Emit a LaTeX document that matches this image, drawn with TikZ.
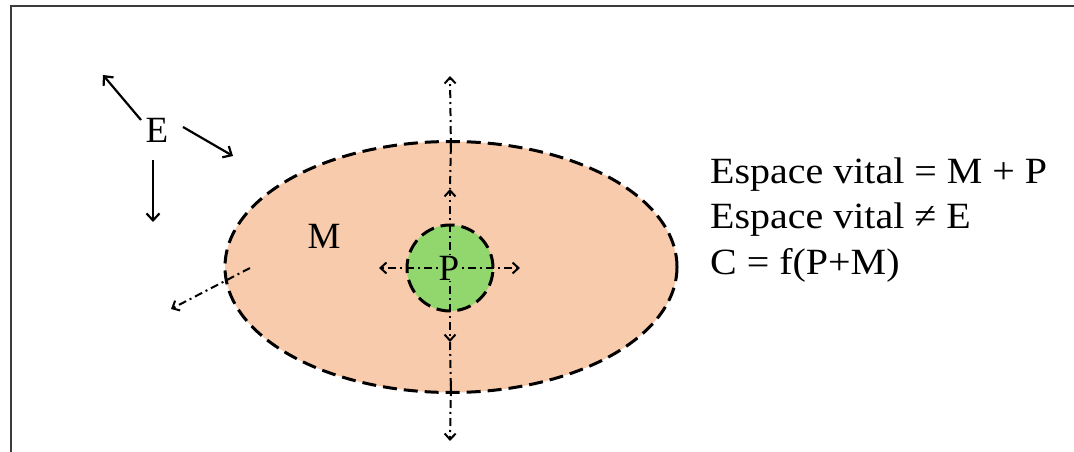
\documentclass[tikz,border=0pt]{standalone}
\usepackage{fontspec}
\setmainfont{Liberation Serif}
\usetikzlibrary{shapes.geometric,arrows.meta}
\definecolor{peach}{RGB}{248,203,173}
\definecolor{pgreen}{RGB}{146,214,110}
\definecolor{framegray}{RGB}{60,60,60}
\newcommand\widetext[1]{\scalebox{1.08}[1]{#1}}
\begin{document}
\begin{tikzpicture}[x=1pt,y=-1pt,
  bigdash/.style={line width=3pt, dash pattern=on 14pt off 7pt},
  ddline/.style={line width=2pt, dash pattern=on 8pt off 4pt on 2pt off 4pt},
  ddarrow/.style={ddline, -{Straight Barb[length=6pt,width=11pt,line width=2pt]}},
  solidarrow/.style={line width=2.2pt, -{Straight Barb[length=7pt,width=13pt,line width=2.2pt]}},
  lbl/.style={font=\fontsize{37}{44}\selectfont, inner sep=0pt}]
\useasboundingbox (0,0) rectangle (1074,452);
\draw[framegray, line width=1.2pt] (11,452) -- (11,6) -- (1074,6);
% M region
\node[ellipse, fill=peach, bigdash, draw, minimum width=452pt, minimum height=251pt, inner sep=0pt] (Mell) at (451,267) {};
% coordinates
\coordinate (ctop) at (450,76);
\coordinate (cbot) at (450,441);
\coordinate (pup) at (450,189);
\coordinate (pdown) at (450,342);
\coordinate (pleft) at (379,268);
\coordinate (pright) at (520,268);
\coordinate (mstart) at (250,268);
\coordinate (mend) at (171,309);
% dash-dot lines through M
\draw[ddline] (Mell.north) -- (pup);
\draw[ddline] (pdown) -- (Mell.south);
% P region
\node[circle, fill=pgreen, bigdash, draw, minimum size=86pt, inner sep=0pt] (Pc) at (450,268) {};
% dash-dot arrows
\draw[ddarrow] (Mell.north) ++(0,12) -- (ctop);
\draw[ddarrow] (Mell.south) ++(0,-12) -- (cbot);
\draw[ddarrow] (Pc.center) -- (pup);
\draw[ddarrow] (Pc.center) -- (pdown);
\draw[ddarrow] (Pc.center) -- (pleft);
\draw[ddarrow] (Pc.center) -- (pright);
\draw[ddarrow] (mstart) -- (mend);
\node[lbl, fill=pgreen, inner sep=1pt] (Plbl) at (449,268) {P};
\node[lbl] (Mlbl) at (324,236) {M};
% E
\node[lbl] (E) at (157,130) {E};
\coordinate (e1) at (103,75);
\coordinate (e2) at (233,156);
\coordinate (e3) at (153,222);
\draw[solidarrow] (141,120) -- (e1);
\draw[solidarrow] (183,127) -- (e2);
\draw[solidarrow] (153,160) -- (e3);
% text
\node[lbl, anchor=base west] (t1) at (710,183) {\widetext{Espace vital = M + P}};
\node[lbl, anchor=base west] (t2) at (710,228.5) {\widetext{Espace vital ≠ E}};
\node[lbl, anchor=base west] (t3) at (710,274) {\widetext{C = f(P+M)}};
\end{tikzpicture}
\end{document}
